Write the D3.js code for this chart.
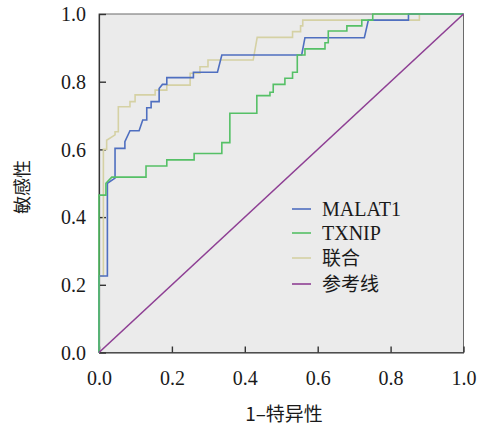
<!DOCTYPE html>
<html>
<head>
<meta charset="utf-8">
<script src="https://cdn.jsdelivr.net/npm/d3@7/dist/d3.min.js"></script>
<style>
html,body{margin:0;padding:0;background:#fff;}
svg{display:block;}
</style>
</head>
<body>
<svg id="chart" width="485" height="429"></svg>
<script>
// ---- data (1 - specificity, sensitivity) ----
const malat1 = [[0,0],[0,0.226],[0.023,0.226],[0.023,0.500],[0.044,0.515],[0.044,0.603],[0.071,0.603],[0.071,0.623],[0.085,0.655],[0.110,0.655],[0.120,0.687],[0.131,0.687],[0.131,0.723],[0.143,0.723],[0.143,0.741],[0.165,0.741],[0.165,0.780],[0.174,0.792],[0.186,0.792],[0.186,0.812],[0.259,0.812],[0.259,0.828],[0.325,0.828],[0.337,0.879],[0.556,0.879],[0.565,0.930],[0.728,0.930],[0.739,0.982],[0.849,0.982],[0.849,1],[1,1]];
const txnip = [[0,0],[0,0.465],[0.019,0.465],[0.019,0.500],[0.035,0.518],[0.129,0.518],[0.129,0.551],[0.186,0.551],[0.186,0.569],[0.261,0.569],[0.261,0.588],[0.337,0.588],[0.337,0.620],[0.359,0.620],[0.359,0.707],[0.433,0.707],[0.433,0.759],[0.469,0.759],[0.469,0.769],[0.478,0.769],[0.478,0.792],[0.510,0.792],[0.510,0.810],[0.531,0.810],[0.531,0.828],[0.544,0.828],[0.544,0.879],[0.565,0.879],[0.565,0.897],[0.620,0.897],[0.620,0.915],[0.629,0.915],[0.629,0.950],[0.680,0.950],[0.680,0.965],[0.721,0.965],[0.721,0.982],[0.751,0.982],[0.751,1],[1,1]];
const combined = [[0,0],[0,0.226],[0.012,0.226],[0.012,0.600],[0.021,0.600],[0.021,0.627],[0.044,0.643],[0.044,0.652],[0.053,0.652],[0.053,0.726],[0.085,0.726],[0.085,0.741],[0.099,0.741],[0.099,0.761],[0.154,0.761],[0.154,0.775],[0.186,0.775],[0.186,0.790],[0.250,0.790],[0.250,0.825],[0.277,0.825],[0.277,0.844],[0.299,0.844],[0.299,0.864],[0.423,0.864],[0.434,0.931],[0.531,0.931],[0.531,0.948],[0.553,0.948],[0.553,0.965],[0.559,0.965],[0.559,0.982],[0.879,0.982],[0.879,1],[1,1]];
const reference = [[0,0],[1,1]];
const seriesNames = ["MALAT1","TXNIP","联合","参考线"];
const tickValues = [0,0.2,0.4,0.6,0.8,1.0];
const xTitle = "1–特异性";
const yTitle = "敏感性";

// ---- layout ----
const svg = d3.select("#chart");
const L = 99, T = 14, W = 364.5, H = 338.5;
const x = d3.scaleLinear().domain([0,1]).range([L, L+W]);
const y = d3.scaleLinear().domain([0,1]).range([T+H, T]);
const colors = ["#4f6fc0","#55c066","#d5d1a4","#8e3f94"];
const serif = "'Liberation Serif','Times New Roman',serif";
const cjk = "'Noto Sans CJK SC','Noto Sans',sans-serif";

svg.append("rect").attr("x",L).attr("y",T).attr("width",W).attr("height",H)
  .attr("fill","#ebebeb").attr("stroke","#6a6a6a").attr("stroke-width",1);

const fmt = d3.format(".1f");
const yAxis = svg.append("g").attr("transform",`translate(${L},0)`)
  .call(d3.axisLeft(y).tickValues(tickValues).tickFormat(fmt).tickSizeInner(-7).tickSizeOuter(0).tickPadding(13));
const xAxis = svg.append("g").attr("transform",`translate(0,${T+H})`)
  .call(d3.axisBottom(x).tickValues(tickValues).tickFormat(fmt).tickSizeInner(-6).tickSizeOuter(0).tickPadding(18));
[yAxis,xAxis].forEach(g=>{
  g.select(".domain").attr("stroke","#333").attr("stroke-width",1.2);
  g.selectAll(".tick line").attr("stroke","#333").attr("stroke-width",1.4);
  g.selectAll(".tick text").attr("fill","#1a1a1a").style("font-family",serif).style("font-size","20px");
});
yAxis.selectAll(".tick text").attr("dy","0.33em");

const line = d3.line().x(d=>x(d[0])).y(d=>y(d[1]));
const series = [malat1, txnip, combined, reference];
const order = [2,0,1,3];
order.forEach(i=>{
  svg.append("path").datum(series[i]).attr("d",line)
    .attr("fill","none").attr("stroke",colors[i]).attr("stroke-width",1.6)
    .attr("stroke-linejoin","miter");
});

// legend
const legY = [209, 233, 258, 284];
seriesNames.forEach((n,i)=>{
  svg.append("line").attr("x1",292).attr("x2",311).attr("y1",legY[i]).attr("y2",legY[i])
    .attr("stroke",colors[i]).attr("stroke-width",1.6);
  const isLatin = /^[A-Za-z0-9]+$/.test(n);
  svg.append("text").attr("x",322).attr("y",legY[i]).attr("dy","0.35em")
    .attr("fill","#1a1a1a")
    .style("font-family", isLatin ? serif : cjk)
    .style("font-size", isLatin ? "20px" : "19px")
    .text(n);
});

// titles
svg.append("text").attr("x",284).attr("y",414).attr("text-anchor","middle").attr("dy","0.35em")
  .attr("fill","#1a1a1a").style("font-family",cjk).style("font-size","19px").text(xTitle);
svg.append("text").attr("transform","translate(23,187) rotate(-90)").attr("text-anchor","middle").attr("dy","0.35em")
  .attr("fill","#1a1a1a").style("font-family",cjk).style("font-size","18px").text(yTitle);
</script>
</body>
</html>
